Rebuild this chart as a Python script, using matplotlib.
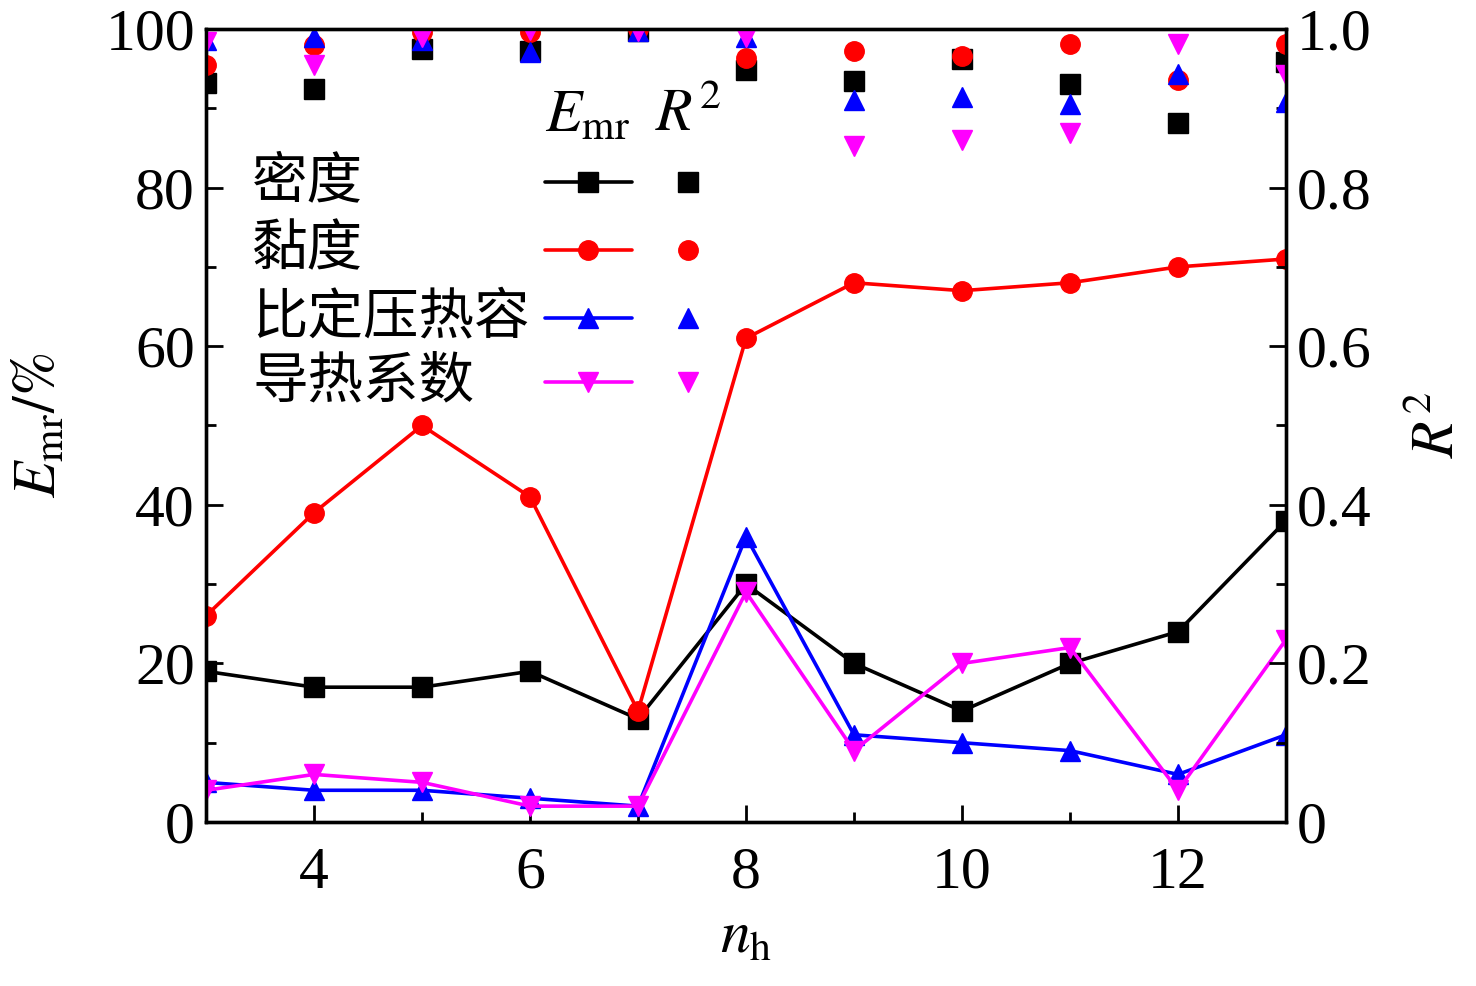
import matplotlib
matplotlib.use("Agg")
import matplotlib.pyplot as plt
from matplotlib.ticker import MultipleLocator

plt.rcParams['font.family'] = ['Liberation Serif', 'Noto Sans CJK SC']
plt.rcParams['mathtext.fontset'] = 'stix'

nh = [3, 4, 5, 6, 7, 8, 9, 10, 11, 12, 13]
names = ['密度', '黏度', '比定压热容', '导热系数']

emr_density = [19, 17, 17, 19, 13, 30, 20, 14, 20, 24, 38]
emr_viscosity = [26, 39, 50, 41, 14, 61, 68, 67, 68, 70, 71]
emr_cp = [5, 4, 4, 3, 2, 36, 11, 10, 9, 6, 11]
emr_k = [4, 6, 5, 2, 2, 29, 9, 20, 22, 4, 23]

r2_density = [0.932, 0.924, 0.975, 0.972, 0.997, 0.948, 0.934, 0.962, 0.931, 0.882, 0.958]
r2_viscosity = [0.955, 0.980, 0.996, 0.996, 1.000, 0.963, 0.972, 0.966, 0.981, 0.936, 0.981]
r2_cp = [0.986, 0.990, 0.986, 0.971, 0.997, 0.990, 0.911, 0.914, 0.906, 0.943, 0.908]
r2_k = [0.983, 0.955, 0.990, 0.999, 0.997, 0.990, 0.852, 0.860, 0.869, 0.981, 0.942]

colors = ['#000000', '#ff0000', '#0000ff', '#ff00ff']
markers = ['s', 'o', '^', 'v']
emr_all = [emr_density, emr_viscosity, emr_cp, emr_k]
r2_all = [r2_density, r2_viscosity, r2_cp, r2_k]

fig = plt.figure(figsize=(14.76, 9.86), dpi=100)
ax = fig.add_axes([206/1476, 1-822/986, (1286-206)/1476, (822-29)/986])
ax2 = ax.twinx()

ms = 14
lw = 2.6
for e, c, m in zip(emr_all, colors, markers):
    ax.plot(nh, e, color=c, marker=m, markersize=ms, linewidth=lw, clip_on=True, zorder=3)
for r, c, m in zip(r2_all, colors, markers):
    ax2.plot(nh, r, linestyle='none', color=c, marker=m, markersize=ms, clip_on=True)

ax.set_xlim(3, 13)
ax.set_ylim(0, 100)
ax2.set_ylim(0, 1.0)

ax.xaxis.set_minor_locator(MultipleLocator(1))
ax.yaxis.set_major_locator(MultipleLocator(20))
ax.yaxis.set_minor_locator(MultipleLocator(10))
ax2.yaxis.set_minor_locator(MultipleLocator(0.1))

ax.set_xticks([4, 6, 8, 10, 12])
ax.set_xticklabels(['4', '6', '8', '10', '12'])
ax2.set_yticks([0, 0.2, 0.4, 0.6, 0.8, 1.0])
ax2.set_yticklabels(['0', '0.2', '0.4', '0.6', '0.8', '1.0'])

fs = 43
for a in (ax, ax2):
    a.tick_params(which='major', direction='in', length=12, width=2, labelsize=fs, pad=8)
    a.tick_params(which='minor', direction='in', length=7, width=2)
    for s in a.spines.values():
        s.set_linewidth(2.4)
ax.tick_params(axis='x', which='major', pad=18)
ax.tick_params(top=False, which='both')

ax.set_xlabel(r'$n_{\mathrm{h}}$', fontsize=fs, labelpad=8)
ax.set_ylabel(r'$E_{\mathrm{mr}}/\%$', fontsize=fs, labelpad=26)
ax2.set_ylabel(r'$R^2$', fontsize=fs, labelpad=28)

# custom legend table (axes coordinates)
tr = ax.transAxes
def ax_xy(px, py):
    return ((px - 206) / 1080, (822 - py) / 793)

hx, hy = ax_xy(588, 118)
ax.text(hx, hy, r'$E_{\mathrm{mr}}$', transform=tr, fontsize=fs, ha='center', va='center')
hx2, hy2 = ax_xy(688, 116)
ax.text(hx2, hy2, r'$R^2$', transform=tr, fontsize=fs, ha='center', va='center')

rows_y = [182, 250, 318, 382]
for name, c, m, py in zip(names, colors, markers, rows_y):
    tx, ty = ax_xy(252, py)
    ax.text(tx, ty, name, transform=tr, fontsize=40, ha='left', va='center',
            family=['Noto Sans CJK SC', 'DejaVu Sans'])
    x0, yy = ax_xy(545, py)
    x1, _ = ax_xy(632, py)
    xm, _ = ax_xy(588, py)
    ax.plot([x0, x1], [yy, yy], color=c, linewidth=lw, transform=tr, clip_on=False,
            solid_capstyle='round')
    ax.plot([xm], [yy], color=c, marker=m, markersize=ms, transform=tr, clip_on=False, linestyle='none')
    xr, _ = ax_xy(688, py)
    ax.plot([xr], [yy], color=c, marker=m, markersize=ms, transform=tr, clip_on=False, linestyle='none')

fig.savefig('out.png', dpi=100)
